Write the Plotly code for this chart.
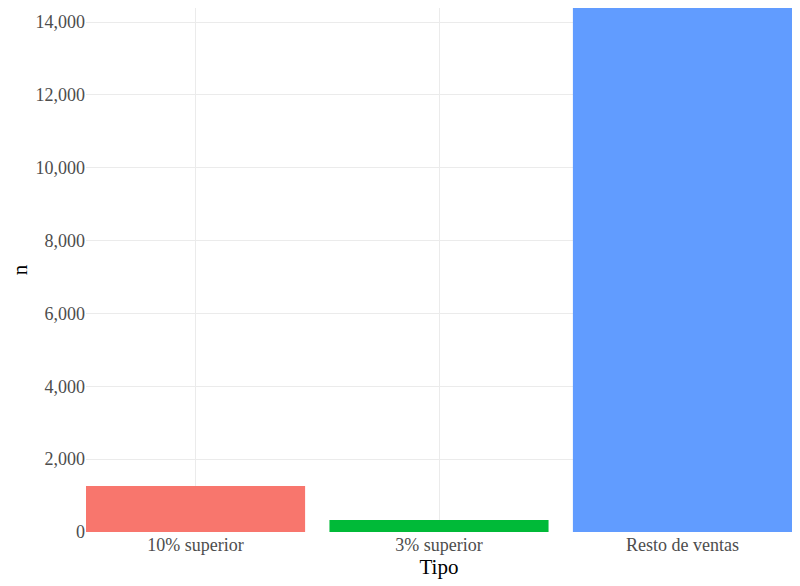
import plotly.graph_objects as go

tipos = ["10% superior", "3% superior", "Resto de ventas"]
n = [1263, 330, 14385]
colores = ["#F8766D", "#00BA38", "#619CFF"]

fig = go.Figure(go.Bar(x=tipos, y=n, marker_color=colores, width=0.9,
                       marker_line_width=0))

# page body adds an 8px offset, so the figure is shrunk to compensate
fig.update_layout(
    width=792, height=578,
    margin=dict(l=78, r=8, t=0, b=54),
    plot_bgcolor="white", paper_bgcolor="white",
    font=dict(family="Liberation Serif", color="#4D4D4D", size=18),
    showlegend=False,
)
fig.update_xaxes(range=[-0.45, 2.45], showgrid=True, gridcolor="#EBEBEB",
                 gridwidth=1, ticks="", zeroline=False,
                 title=dict(text="Tipo", font=dict(size=21, color="black"), standoff=2),
                 tickfont=dict(size=18, color="#4D4D4D"))
fig.update_yaxes(range=[0, 14385], tickvals=list(range(0, 14001, 2000)),
                 tickformat=",d", showgrid=True, gridcolor="#EBEBEB",
                 gridwidth=1, zeroline=False, ticks="",
                 title=dict(text="n", font=dict(size=21, color="black"), standoff=6),
                 tickfont=dict(size=18, color="#4D4D4D"))

fig.write_html("out.html")
